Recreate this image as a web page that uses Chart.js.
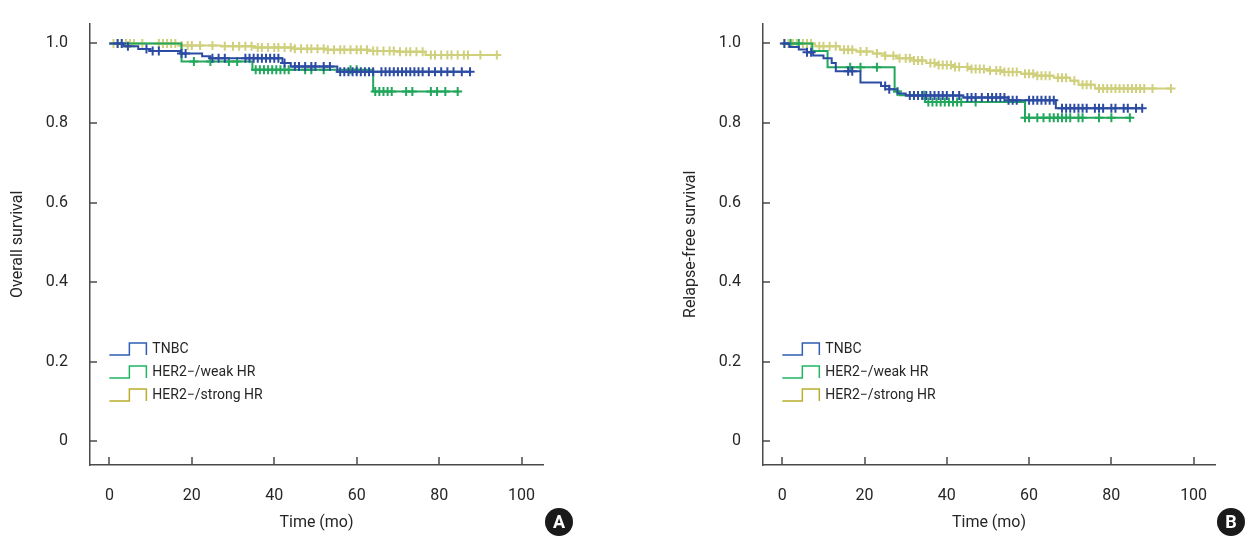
<!DOCTYPE html>
<html>
<head>
<meta charset="utf-8">
<script src="https://cdn.jsdelivr.net/npm/chart.js@4.4.1/dist/chart.umd.min.js"></script>
<style>
  html, body { margin: 0; padding: 0; background: #fff; }
  #wrap { position: relative; width: 1247px; height: 538px; }
  .panel { position: absolute; top: 0; height: 538px; }
  #panelA { left: 0; width: 673px; }
  #panelB { left: 673px; width: 574px; }
</style>
</head>
<body>
<div id="wrap">
  <div class="panel" id="panelA"><canvas id="chartA"></canvas></div>
  <div class="panel" id="panelB"><canvas id="chartB"></canvas></div>
</div>
<script>
// axis ticks
const xTicks = [0, 20, 40, 60, 80, 100];
const yTicks = [0, 0.2, 0.4, 0.6, 0.8, 1.0];
const groups = ["TNBC", "HER2\u2212/weak HR", "HER2\u2212/strong HR"];

// panel A: overall survival, steps as [month, survival after]
const osTnbcSteps = [[0, 1], [3.4, 0.993], [7, 0.986], [10, 0.981], [17.2, 0.975], [22.5, 0.968], [24.5, 0.963], [42, 0.951], [44, 0.942], [55.3, 0.929], [87.6, 0.929]];
const osWeakSteps = [[0, 1], [17.5, 0.955], [34.7, 0.934], [64, 0.879], [85, 0.879]];
const osStrongSteps = [[0, 1], [17, 0.995], [27, 0.993], [35, 0.99], [45, 0.987], [53, 0.984], [63, 0.981], [70, 0.979], [76.7, 0.971], [94, 0.971]];

// censored months, panel A
const osTnbcCensor = [2, 3, 4.5, 9, 10.5, 12, 17.5, 18.5, 25, 26.5, 28, 33, 34, 35, 36, 37, 38, 39, 40, 41, 42.5, 45, 46, 47.5, 49, 50, 52, 53.5, 56, 57, 58, 59, 60, 61, 62, 63, 64, 66, 67, 68, 69, 70, 71, 72, 73, 74, 75, 76, 77.5, 79, 80.5, 82, 83.5, 85.5, 87.5];
const osWeakCensor = [20.5, 24.5, 29, 31, 35.5, 36.5, 37.5, 38.5, 39.5, 40.5, 41.5, 42.5, 43.5, 47.5, 49, 52, 58.5, 60, 64.5, 65.5, 66.5, 67.5, 68.5, 72, 73.5, 78, 79.5, 81.5, 84.5];
const osStrongCensor = [1, 2, 3, 4, 5, 6, 8, 12, 13, 14, 15, 16, 17.5, 19, 20, 22, 25, 28, 30, 31.5, 33, 34.5, 36, 37, 38.5, 40, 41, 42.5, 44, 45, 46.5, 48, 49, 50.5, 52, 53, 54.5, 56, 57, 58.5, 60, 61, 62.5, 64, 65, 66.5, 68, 69, 70.5, 72, 73, 74.5, 76, 78, 79, 80.5, 82, 83, 84.5, 86, 87, 90, 94];

// panel B: relapse-free survival
const rfsTnbcSteps = [[0, 1], [1.7, 0.991], [4, 0.985], [6, 0.978], [7.5, 0.97], [10, 0.963], [12, 0.951], [13, 0.93], [19, 0.902], [24, 0.893], [26, 0.885], [28, 0.874], [30, 0.869], [44, 0.864], [55, 0.857], [66.5, 0.837], [87.5, 0.837]];
const rfsWeakSteps = [[0, 1], [7.3, 0.981], [11, 0.94], [27.3, 0.879], [28.5, 0.87], [34.7, 0.853], [59, 0.813], [85, 0.813]];
const rfsStrongSteps = [[0, 1], [8, 0.993], [14, 0.984], [18, 0.98], [22, 0.975], [25, 0.969], [28, 0.963], [32, 0.957], [35, 0.951], [38, 0.946], [42, 0.941], [46, 0.936], [50, 0.932], [54, 0.928], [58, 0.924], [62, 0.919], [66, 0.914], [70, 0.906], [72, 0.896], [76, 0.887], [94.5, 0.887]];

const rfsTnbcCensor = [0.5, 6, 7, 16, 17, 25, 26, 31, 32, 33, 34, 35, 36, 37, 38, 39, 40, 41.5, 43, 45, 46, 47, 48.5, 50, 51, 52, 53, 54, 55, 56, 57, 60, 61, 62, 63, 64, 65, 66, 68, 69, 70, 71, 72, 73, 74, 76, 77, 78, 80, 81, 83, 84, 86, 87.5];
const rfsWeakCensor = [2, 4, 16.5, 19, 23, 28, 34.5, 35.5, 36.5, 37.5, 38.5, 39.5, 40.5, 41.5, 42.5, 43.5, 47, 59, 60, 62, 63.5, 65, 66, 67, 68, 69, 70, 72, 73, 77, 80, 84.5];
const rfsStrongCensor = [0.5, 1.5, 2.5, 3.5, 5, 6, 7, 9, 10, 11.5, 13, 15, 16, 17, 19, 20.5, 23, 25, 27, 28.5, 30, 31, 32, 33, 34, 36, 37, 38, 39, 40, 41, 42, 43, 45, 46, 47, 48, 49, 50.5, 52, 53, 54, 55, 56, 57, 59, 60, 61, 62, 63, 64, 65, 67, 68, 69, 71, 73, 74, 75, 77, 78, 79, 80, 81, 82, 83, 84, 85, 86, 87, 88, 90, 94.5];

const lineColors = ["#2c4ca4", "#22a75c", "#d0d07c"];
const legendColors = ["#2d5fb3", "#1fb564", "#b9af2c"];
const FONT = "Roboto, 'Liberation Sans', sans-serif";
const TEXT = "#262626";

function survivalAt(steps, t) {
  let s = steps[0][1];
  for (const [time, val] of steps) {
    if (time <= t) s = val;
  }
  return s;
}

function kmPoints(steps, censor) {
  const pts = steps.map(([t, s]) => ({ x: t, y: s, censor: false }));
  censor.forEach((t) => pts.push({ x: t, y: survivalAt(steps, t), censor: true }));
  return pts.sort((a, b) => a.x - b.x || (a.censor ? 1 : -1));
}

function kmDataset(i, steps, censor) {
  return {
    label: groups[i],
    data: kmPoints(steps, censor),
    stepped: true,
    borderColor: lineColors[i],
    borderWidth: 2,
    pointStyle: "cross",
    pointRadius: (c) => (c.raw && c.raw.censor ? 4.5 : 0),
    pointBorderWidth: 2,
    pointBorderColor: lineColors[i],
    pointHoverRadius: 0,
    fill: false,
  };
}

const innerTicks = {
  id: "innerTicks",
  afterDraw(chart) {
    const { ctx, chartArea, scales } = chart;
    ctx.save();
    ctx.strokeStyle = "#4a4a4a";
    ctx.lineWidth = 1.5;
    xTicks.forEach((v) => {
      const px = Math.round(scales.x.getPixelForValue(v));
      ctx.beginPath();
      ctx.moveTo(px, chartArea.bottom);
      ctx.lineTo(px, chartArea.bottom - 8);
      ctx.stroke();
    });
    yTicks.forEach((v) => {
      const py = Math.round(scales.y.getPixelForValue(v));
      ctx.beginPath();
      ctx.moveTo(chartArea.left, py);
      ctx.lineTo(chartArea.left + 7, py);
      ctx.stroke();
    });
    ctx.restore();
  },
};

const stepLegend = {
  id: "stepLegend",
  afterDraw(chart) {
    const { ctx, scales } = chart;
    const x0 = scales.x.getPixelForValue(0);
    ctx.save();
    ctx.lineWidth = 1.5;
    ctx.font = "14px " + FONT;
    ctx.textBaseline = "middle";
    groups.forEach((name, i) => {
      const y = 349 + i * 23;
      ctx.strokeStyle = legendColors[i];
      ctx.beginPath();
      ctx.moveTo(x0, y + 6);
      ctx.lineTo(x0 + 20, y + 6);
      ctx.lineTo(x0 + 20, y - 6);
      ctx.lineTo(x0 + 37, y - 6);
      ctx.lineTo(x0 + 37, y + 6);
      ctx.stroke();
      ctx.fillStyle = TEXT;
      ctx.fillText(name, x0 + 43, y);
    });
    ctx.restore();
  },
};

const badge = {
  id: "badge",
  afterDraw(chart, args, opts) {
    const { ctx, chartArea } = chart;
    const cx = chartArea.right + 16;
    const cy = 522;
    ctx.save();
    ctx.fillStyle = "#1a1a1a";
    ctx.beginPath();
    ctx.arc(cx, cy, 14, 0, Math.PI * 2);
    ctx.fill();
    ctx.fillStyle = "#fff";
    ctx.font = "bold 18px " + FONT;
    ctx.textAlign = "center";
    ctx.textBaseline = "middle";
    ctx.fillText(opts.letter, cx, cy + 1);
    ctx.restore();
  },
};

function drawPanel(canvasId, datasets, yTitle, letter, rightPad) {
  const tickFont = { family: FONT, size: 16 };
  new Chart(document.getElementById(canvasId), {
    type: "line",
    data: { datasets },
    options: {
      responsive: true,
      maintainAspectRatio: false,
      animation: false,
      events: [],
      layout: { padding: { top: 8, right: rightPad, bottom: 0, left: 0 } },
      plugins: {
        legend: { display: false },
        tooltip: { enabled: false },
        badge: { letter },
      },
      scales: {
        x: {
          type: "linear",
          min: -4.7,
          max: 105.2,
          afterBuildTicks: (s) => { s.ticks = xTicks.map((v) => ({ value: v })); },
          afterFit: (s) => { s.height = 73; },
          grid: { display: false },
          border: { display: true, color: "#4a4a4a", width: 1.5 },
          ticks: { padding: 13, color: TEXT, font: tickFont, maxRotation: 0 },
          title: { display: true, text: "Time (mo)", color: TEXT, font: tickFont, padding: { top: 0, bottom: 5 } },
        },
        y: {
          min: -0.06,
          max: 1.05,
          afterBuildTicks: (s) => { s.ticks = yTicks.map((v) => ({ value: v })); },
          afterFit: (s) => { s.width = 90; },
          grid: { display: false },
          border: { display: true, color: "#4a4a4a", width: 1.5 },
          ticks: {
            padding: 14,
            color: TEXT,
            font: tickFont,
            callback: (v) => (v === 0 ? "0" : Number(v).toFixed(1)),
          },
          title: { display: true, text: yTitle, color: TEXT, font: tickFont, padding: { top: 8, bottom: 0 } },
        },
      },
    },
    plugins: [innerTicks, stepLegend, badge],
  });
}

drawPanel("chartA", [
  kmDataset(0, osTnbcSteps, osTnbcCensor),
  kmDataset(1, osWeakSteps, osWeakCensor),
  kmDataset(2, osStrongSteps, osStrongCensor),
], "Overall survival", "A", 130);

drawPanel("chartB", [
  kmDataset(0, rfsTnbcSteps, rfsTnbcCensor),
  kmDataset(1, rfsWeakSteps, rfsWeakCensor),
  kmDataset(2, rfsStrongSteps, rfsStrongCensor),
], "Relapse-free survival", "B", 32);
</script>
</body>
</html>
